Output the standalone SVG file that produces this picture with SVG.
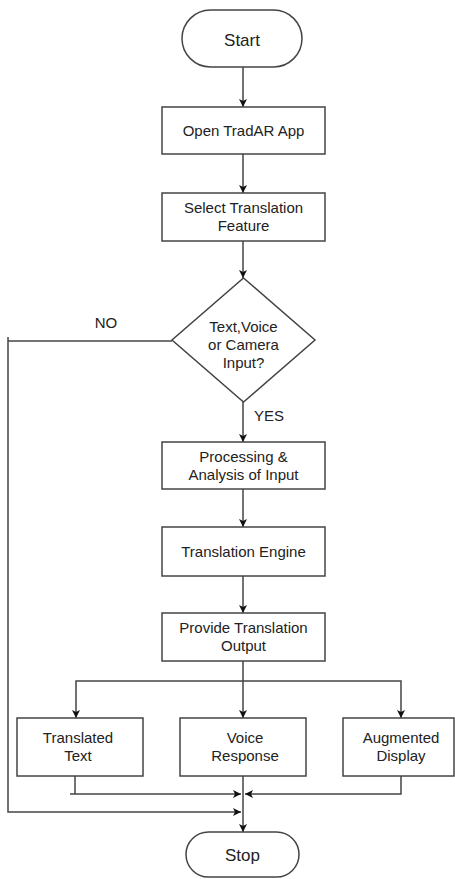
<svg xmlns="http://www.w3.org/2000/svg" width="455" height="879" viewBox="0 0 455 879">
<style>
.shape{fill:#fff;stroke:#444;stroke-width:1.5}
.conn{fill:none;stroke:#444;stroke-width:1.5}
text{font-family:"Liberation Sans",Arial,sans-serif;font-size:15px;fill:#222;text-anchor:middle}
.big{font-size:17px}
</style>
<defs>
<marker id="arr" viewBox="0 0 10 10" refX="10" refY="5" markerWidth="9" markerHeight="8" markerUnits="userSpaceOnUse" orient="auto">
<path d="M0,0 L10,5 L0,10 L2.5,5 z" fill="#111"/>
</marker>
</defs>
<rect width="455" height="879" fill="#fff"/>
<g id="connectors">
<line class="conn" x1="243" y1="67" x2="243" y2="107" marker-end="url(#arr)"/>
<line class="conn" x1="243" y1="154" x2="243" y2="193" marker-end="url(#arr)"/>
<line class="conn" x1="243" y1="241" x2="243" y2="278" marker-end="url(#arr)"/>
<line class="conn" x1="243" y1="402" x2="243" y2="442" marker-end="url(#arr)"/>
<line class="conn" x1="243" y1="489" x2="243" y2="527" marker-end="url(#arr)"/>
<line class="conn" x1="243" y1="576" x2="243" y2="613" marker-end="url(#arr)"/>
<line class="conn" x1="243" y1="661" x2="243" y2="718" marker-end="url(#arr)"/>
<polyline class="conn" points="243,681 76,681 76,718" marker-end="url(#arr)"/>
<polyline class="conn" points="243,681 401,681 401,718" marker-end="url(#arr)"/>
<line class="conn" x1="243" y1="776" x2="243" y2="832" marker-end="url(#arr)"/>
<polyline class="conn" points="75,776 75,794"/>
<line class="conn" x1="70" y1="794" x2="241" y2="794" marker-end="url(#arr)"/>
<polyline class="conn" points="401,776 401,794 245,794" marker-end="url(#arr)"/>
<polyline class="conn" points="172,341 8,341"/>
<polyline class="conn" points="8,337 8,812 241,812" marker-end="url(#arr)"/>
<text x="106" y="328">NO</text>
<text x="269" y="421">YES</text>
</g>
<g id="start">
<rect class="shape" x="182" y="10" width="120" height="57" rx="28.5"/>
<text class="big" x="242" y="46">Start</text>
</g>
<g id="open">
<rect class="shape" x="162" y="107" width="163" height="47"/>
<text x="243.5" y="136">Open TradAR App</text>
</g>
<g id="select">
<rect class="shape" x="162" y="193" width="163" height="48"/>
<text x="243.5" y="213">Select Translation</text>
<text x="243.5" y="231">Feature</text>
</g>
<g id="decision">
<polygon class="shape" points="243.5,278 315,340 243.5,402 172,340"/>
<text x="243.5" y="332">Text,Voice</text>
<text x="243.5" y="350">or Camera</text>
<text x="243.5" y="368">Input?</text>
</g>
<g id="processing">
<rect class="shape" x="162" y="442" width="163" height="47"/>
<text x="243.5" y="462">Processing &amp;</text>
<text x="243.5" y="480">Analysis of Input</text>
</g>
<g id="engine">
<rect class="shape" x="162" y="527" width="163" height="49"/>
<text x="243.5" y="557">Translation Engine</text>
</g>
<g id="provide">
<rect class="shape" x="162" y="613" width="163" height="48"/>
<text x="243.5" y="633">Provide Translation</text>
<text x="243.5" y="651">Output</text>
</g>
<g id="translated">
<rect class="shape" x="17" y="718" width="126" height="58"/>
<text x="78" y="743">Translated</text>
<text x="78" y="761">Text</text>
</g>
<g id="voice">
<rect class="shape" x="180" y="718" width="126" height="58"/>
<text x="245" y="743">Voice</text>
<text x="245" y="761">Response</text>
</g>
<g id="augmented">
<rect class="shape" x="343" y="718" width="111" height="58"/>
<text x="401" y="743">Augmented</text>
<text x="401" y="761">Display</text>
</g>
<g id="stop">
<rect class="shape" x="186" y="832" width="113" height="45" rx="22.5"/>
<text class="big" x="242.5" y="861">Stop</text>
</g>
</svg>
